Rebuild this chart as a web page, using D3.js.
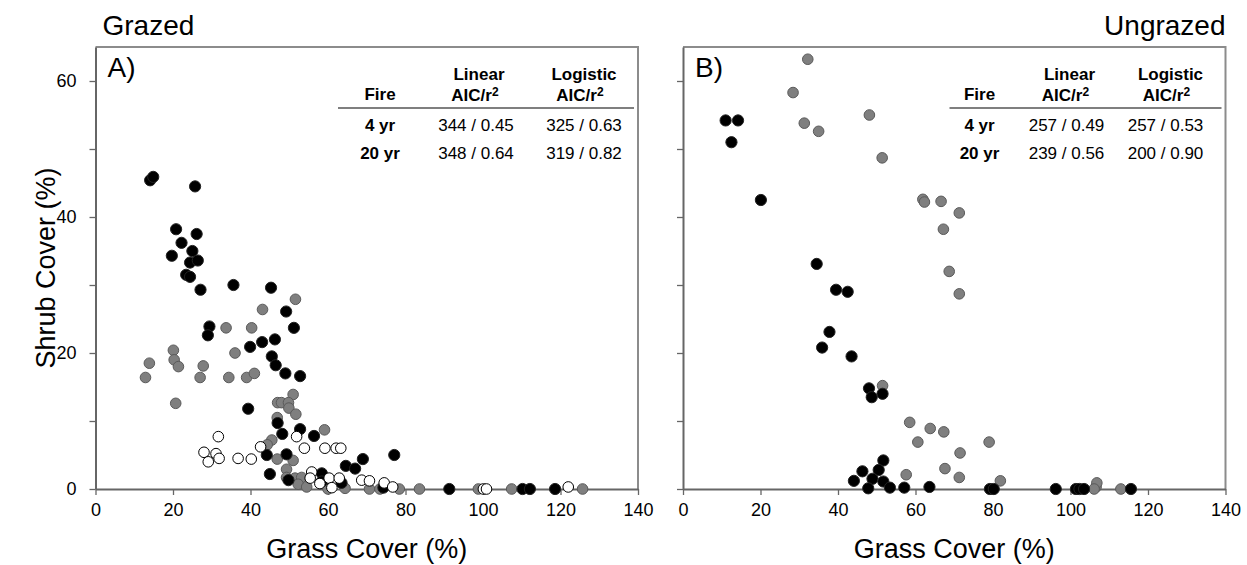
<!DOCTYPE html>
<html>
<head>
<meta charset="utf-8">
<script src="https://cdn.jsdelivr.net/npm/d3@7/dist/d3.min.js"></script>
<style>
  body { margin: 0; background: #fff; }
  svg { font-family: "Liberation Sans", Arial, sans-serif; }
</style>
</head>
<body>
<svg width="1247" height="565"></svg>
<script>
// grazed plots, [grass %, shrub %]
const grazedFire20 = [[14.1,45.4],[14.9,45.9],[25.7,44.5],[20.8,38.2],[26.1,37.5],[22.2,36.2],[25.0,35.0],[19.7,34.3],[24.4,33.3],[26.4,33.6],[23.4,31.5],[24.4,31.2],[27.1,29.3],[35.6,30.0],[45.3,29.6],[49.2,26.1],[51.2,23.7],[29.4,23.9],[29.0,22.6],[39.9,20.9],[43.0,21.6],[46.3,22.0],[45.5,19.5],[46.5,18.2],[49.0,17.0],[52.8,16.6],[39.4,11.8],[47.0,9.7],[52.8,8.8],[48.2,8.1],[56.4,7.8],[44.2,5.0],[49.3,5.1],[45.0,2.2],[49.8,1.3],[58.4,2.3],[58.4,1.1],[64.6,3.4],[67.0,3.0],[69.0,4.4],[63.5,0.9],[77.1,5.0],[74.3,0.2],[91.3,0],[110.2,0],[112.1,0],[118.6,0]];
const grazedFire4 = [[51.6,27.9],[43.1,26.4],[33.7,23.7],[40.3,23.7],[20.1,20.4],[36.0,20.0],[13.9,18.5],[20.3,19.0],[21.4,18.0],[27.8,18.1],[12.9,16.4],[27.0,16.4],[34.4,16.4],[39.0,16.4],[41.0,17.0],[20.7,12.6],[51.0,13.9],[47.0,12.7],[48.0,12.7],[49.8,12.7],[49.9,11.9],[51.7,11.0],[46.9,10.5],[59.1,8.7],[45.5,7.2],[44.3,6.5],[46.9,4.4],[51.0,4.2],[49.3,2.9],[49.3,1.7],[51.5,1.6],[53.2,1.7],[52.3,0.7],[54.5,0.3],[58.0,0.9],[60.0,0],[64.4,0.1],[70.7,0],[73.4,0],[78.4,0],[83.6,0],[98.8,0],[107.4,0],[125.7,0]];
const grazedUnburned = [[31.7,7.7],[28.0,5.4],[29.1,4.0],[31.1,5.2],[31.9,4.5],[36.8,4.5],[40.2,4.4],[42.6,6.2],[51.9,7.7],[53.9,6.0],[59.2,6.0],[62.1,6.0],[63.3,6.0],[55.8,2.5],[55.4,1.6],[60.3,1.6],[62.9,1.6],[61.0,0.2],[57.9,0.8],[68.7,1.3],[70.7,1.2],[74.5,0.9],[76.7,0.3],[100.1,0],[100.9,0],[122.0,0.3]];

// ungrazed plots
const ungrazedFire20 = [[11.0,54.2],[14.2,54.2],[12.5,51.0],[20.1,42.5],[34.5,33.1],[39.5,29.3],[42.5,29.0],[37.8,23.1],[35.9,20.8],[43.5,19.5],[48.0,14.8],[48.7,13.5],[51.5,14.0],[51.7,4.2],[50.5,2.8],[46.3,2.6],[48.9,1.5],[44.1,1.2],[51.7,1.1],[47.8,0.1],[53.4,0.2],[57.1,0.2],[63.6,0.3],[79.2,0],[80.2,0],[96.2,0],[101.4,0],[102.3,0],[103.5,0],[115.6,0]];
const ungrazedFire4 = [[32.2,63.2],[28.4,58.3],[31.3,53.8],[35.0,52.6],[48.1,55.0],[51.4,48.7],[61.9,42.6],[62.3,42.2],[66.6,42.3],[71.3,40.6],[67.2,38.2],[68.7,32.0],[71.3,28.7],[51.5,15.2],[58.5,9.8],[63.8,8.9],[67.3,8.4],[60.6,6.9],[71.5,5.3],[79.0,6.9],[57.6,2.1],[67.6,3.0],[71.3,1.7],[81.9,1.2],[106.6,0.3],[106.8,0.9],[106.1,0],[113.0,0]];

// model comparison tables
const fireRows = ["4 yr", "20 yr"];
const tableHead = ["Fire", "Linear", "Logistic"];
const grazedLinear = ["344 / 0.45", "348 / 0.64"];
const grazedLogistic = ["325 / 0.63", "319 / 0.82"];
const ungrazedLinear = ["257 / 0.49", "239 / 0.56"];
const ungrazedLogistic = ["257 / 0.53", "200 / 0.90"];

const xTicks = [0, 20, 40, 60, 80, 100, 120, 140];
const yTicks = [0, 10, 20, 30, 40, 50, 60];

const svg = d3.select("svg");
const plotTop = 47, plotBottom = 489;

const yScale = d3.scaleLinear().domain([0, 65]).range([plotBottom, plotTop]);

function drawPanel(left, right, opts) {
  const xScale = d3.scaleLinear().domain([0, 140]).range([left, right]);
  const g = svg.append("g");

  // box (top + right)
  g.append("path")
    .attr("d", `M${left},${plotTop}H${right}V${plotBottom}`)
    .attr("fill", "none")
    .attr("stroke", "#8c8c8c")
    .attr("stroke-width", 2);

  const xAxis = g.append("g")
    .attr("transform", `translate(0,${plotBottom})`)
    .call(d3.axisBottom(xScale).tickValues(xTicks).tickSize(6).tickPadding(8).tickSizeOuter(0));
  const yAxis = g.append("g")
    .attr("transform", `translate(${left},0)`)
    .call(d3.axisLeft(yScale).tickValues(yTicks).tickSize(6).tickPadding(13).tickSizeOuter(0)
      .tickFormat(d => opts.yLabels && d % 20 === 0 ? d : ""));
  [xAxis, yAxis].forEach(a => {
    a.select(".domain").attr("stroke", "#666").attr("stroke-width", 2);
    a.selectAll(".tick line").attr("stroke", "#666").attr("stroke-width", 1.3);
    a.selectAll("text").attr("font-size", 18).attr("fill", "#000")
      .attr("font-family", "Liberation Sans, Arial, sans-serif");
  });

  // points: grey, then black, then white on top
  const series = [
    {data: opts.grey, fill: "#7f7f7f", stroke: "#5a5a5a", r: 5.3},
    {data: opts.black, fill: "#000", stroke: "#222", r: 5.6},
    {data: opts.white || [], fill: "#fff", stroke: "#000", r: 5.3}
  ];
  series.forEach(s => {
    g.append("g").selectAll("circle")
      .data(s.data)
      .enter()
      .append("circle")
      .attr("cx", d => xScale(d[0]))
      .attr("cy", d => yScale(d[1]))
      .attr("r", s.r)
      .attr("fill", s.fill)
      .attr("stroke", s.stroke)
      .attr("stroke-width", 1);
  });

  // panel letter and titles
  g.append("text").attr("x", left + 12).attr("y", plotTop + 30)
    .attr("font-size", 28).text(opts.letter);
  g.append("text")
    .attr("x", opts.titleAnchor === "end" ? right : left + 7)
    .attr("y", 35)
    .attr("text-anchor", opts.titleAnchor)
    .attr("font-size", 28)
    .text(opts.title);
  g.append("text")
    .attr("x", (left + right) / 2)
    .attr("y", 558)
    .attr("text-anchor", "middle")
    .attr("font-size", 27)
    .text("Grass Cover (%)");

  // table
  const t = opts.table;
  const tg = g.append("g").attr("font-size", 17);
  tg.append("line")
    .attr("x1", right - t.lineStart).attr("x2", right - 4)
    .attr("y1", 108).attr("y2", 108)
    .attr("stroke", "#000").attr("stroke-width", 1.2);
  tg.append("text").attr("x", right - t.cols[0]).attr("y", 100)
    .attr("text-anchor", "middle").attr("font-weight", "bold").text(tableHead[0]);
  [1, 2].forEach(i => {
    const h = tg.append("text").attr("x", right - t.cols[i]).attr("y", 80)
      .attr("text-anchor", "middle").attr("font-weight", "bold");
    h.append("tspan").text(tableHead[i]);
    h.append("tspan").attr("x", right - t.cols[i] - 4).attr("y", 101).text("AIC/r");
    h.append("tspan").attr("font-size", 12).attr("dy", -5).text("2");
  });
  fireRows.forEach((f, i) => {
    const y = 131 + i * 28;
    tg.append("text").attr("x", right - t.cols[0]).attr("y", y)
      .attr("text-anchor", "middle").attr("font-weight", "bold").text(f);
    tg.append("text").attr("x", right - t.vals[0]).attr("y", y)
      .attr("text-anchor", "middle").text(t.linear[i]);
    tg.append("text").attr("x", right - t.vals[1]).attr("y", y)
      .attr("text-anchor", "middle").text(t.logistic[i]);
  });
}

drawPanel(95.5, 638, {
  letter: "A)", title: "Grazed", titleAnchor: "start", yLabels: true,
  black: grazedFire20, grey: grazedFire4, white: grazedUnburned,
  table: {lineStart: 300, cols: [258, 159, 54], vals: [162, 54],
    linear: grazedLinear, logistic: grazedLogistic}
});
drawPanel(683, 1225.5, {
  letter: "B)", title: "Ungrazed", titleAnchor: "end", yLabels: false,
  black: ungrazedFire20, grey: ungrazedFire4,
  table: {lineStart: 276, cols: [246, 156, 55], vals: [159, 60],
    linear: ungrazedLinear, logistic: ungrazedLogistic}
});

// y axis title
svg.append("text")
  .attr("transform", "translate(55,268) rotate(-90)")
  .attr("text-anchor", "middle")
  .attr("font-size", 27)
  .text("Shrub Cover (%)");
</script>
</body>
</html>
